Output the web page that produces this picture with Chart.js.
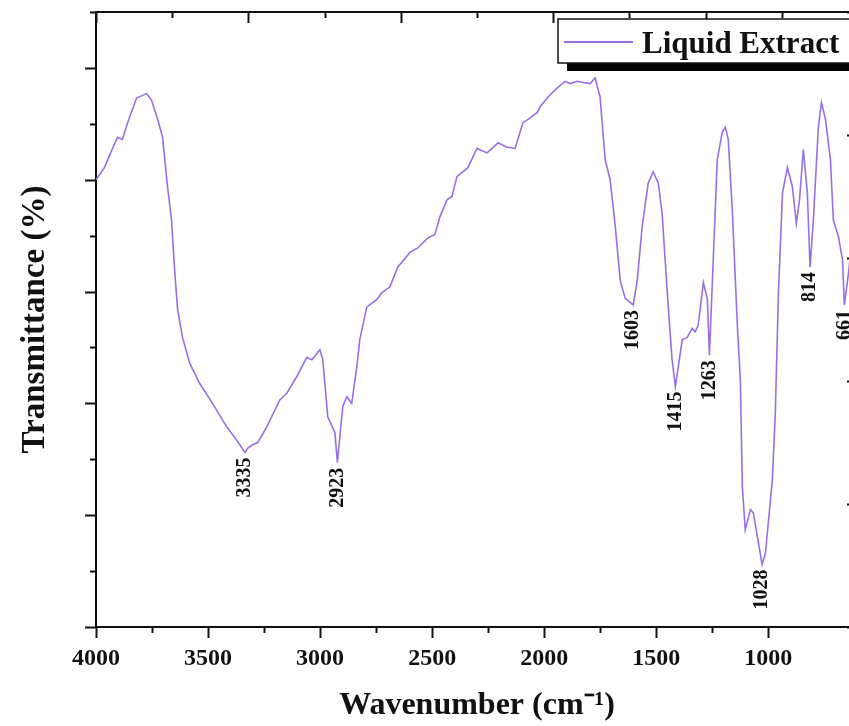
<!DOCTYPE html>
<html>
<head>
<meta charset="utf-8">
<script src="https://cdn.jsdelivr.net/npm/chart.js@4.4.1/dist/chart.umd.min.js"></script>
<style>
  html, body { margin: 0; padding: 0; background: #fff; overflow: hidden; }
  #ftir { display: block; }
</style>
</head>
<body>
<canvas id="ftir" width="880" height="726"></canvas>
<script>
// FTIR spectrum of the liquid extract (wavenumber in cm-1, transmittance in arbitrary %)
const wavenumbers = [
  4000, 3962, 3926, 3904, 3882, 3859, 3819, 3797, 3774, 3752, 3725, 3703, 3681, 3663, 3649, 3636,
  3614, 3582, 3538, 3480, 3417, 3372, 3335, 3323, 3301, 3278, 3238, 3180, 3149, 3104, 3060, 3037,
  3001, 2988, 2966, 2934, 2923, 2899, 2881, 2859, 2836, 2823, 2792, 2747, 2724, 2689, 2653, 2599,
  2564, 2519, 2488, 2465, 2434, 2412, 2389, 2363, 2340, 2300, 2255, 2206, 2166, 2130, 2095, 2072,
  2032, 2019, 1983, 1943, 1907, 1885, 1853, 1826, 1795, 1773, 1751, 1728, 1706, 1683, 1661, 1639,
  1603, 1585, 1563, 1536, 1514, 1491, 1474, 1451, 1430, 1415, 1384, 1362, 1340, 1326, 1313, 1290,
  1272, 1263, 1246, 1228, 1205, 1192, 1179, 1161, 1138, 1125, 1116, 1103, 1080, 1067, 1028, 1013,
  982, 969, 955, 937, 915, 893, 875, 861, 844, 826, 814, 799, 777, 763, 745, 723,
  710, 687, 669, 661, 642, 620, 600
];
const transmittance = [
  40.0, 41.1, 42.8, 43.8, 43.6, 45.1, 47.3, 47.5, 47.7, 47.1, 45.4, 43.8, 39.4, 36.4, 31.9, 28.4,
  25.9, 23.6, 21.8, 20.0, 17.9, 16.7, 15.6, 16.0, 16.3, 16.5, 17.9, 20.3, 20.9, 22.4, 24.1, 23.9,
  24.8, 23.9, 18.8, 17.4, 14.7, 19.7, 20.6, 20.0, 23.3, 25.7, 28.6, 29.3, 29.9, 30.4, 32.2, 33.5,
  33.9, 34.8, 35.1, 36.7, 38.2, 38.5, 40.3, 40.7, 41.1, 42.8, 42.4, 43.3, 42.9, 42.8, 45.1, 45.4,
  46.0, 46.5, 47.4, 48.2, 48.8, 48.6, 48.8, 48.7, 48.6, 49.1, 47.4, 41.8, 40.0, 35.8, 31.0, 29.4,
  28.8, 31.0, 35.8, 39.7, 40.7, 39.7, 37.0, 29.9, 24.0, 21.5, 25.7, 25.9, 26.7, 26.4, 27.0, 30.8,
  29.3, 24.3, 32.8, 41.8, 44.3, 44.7, 43.6, 37.3, 26.8, 22.1, 12.5, 8.7, 10.5, 10.2, 5.6, 6.6,
  13.2, 19.1, 29.9, 38.8, 41.1, 39.4, 36.1, 38.2, 42.7, 38.8, 32.2, 36.4, 44.7, 46.9, 45.4, 41.8,
  36.4, 34.9, 32.8, 28.8, 31.7, 36.0, 38.0
];
const peakPositions = [3335, 2923, 1603, 1415, 1263, 1028, 814, 661];
const peakLabels = ['3335', '2923', '1603', '1415', '1263', '1028', '814', '661'];
const seriesName = 'Liquid Extract';
const lineColor = '#9a6fe6';
const ink = '#111';
const serif = '"Liberation Serif", "Times New Roman", serif';

Chart.defaults.font.family = serif;
Chart.defaults.color = ink;

// tick marks: outward on bottom/left, inward on top/right, long on majors
const tickMarks = {
  id: 'tickMarks',
  afterDraw(chart) {
    const majors = {
      x: v => v % 500 === 0,
      x2: v => v % 2 === 0,
      y: v => v % 10 === 0,
      y2: () => true
    };
    const ctx = chart.ctx;
    ctx.save();
    ctx.strokeStyle = ink;
    ctx.lineWidth = 2;
    for (const id in majors) {
      const scale = chart.scales[id];
      const pos = scale.options.position;
      scale.ticks.forEach(t => {
        const len = majors[id](t.value) ? 11 : 6;
        const p = Math.round(scale.getPixelForValue(t.value)) + 0.5;
        ctx.beginPath();
        if (scale.isHorizontal()) {
          const y0 = pos === 'bottom' ? scale.top : scale.bottom;
          ctx.moveTo(p, y0);
          ctx.lineTo(p, y0 + len);
        } else {
          const x0 = pos === 'left' ? scale.right : scale.left;
          ctx.moveTo(x0, p);
          ctx.lineTo(x0 - len, p);
        }
        ctx.stroke();
      });
    }
    ctx.restore();
  }
};

// vertical wavenumber labels under each absorption band
const peakTags = {
  id: 'peakTags',
  afterDatasetsDraw(chart) {
    const ctx = chart.ctx;
    const xs = chart.scales.x, ys = chart.scales.y;
    ctx.save();
    ctx.fillStyle = ink;
    ctx.font = 'bold 20px ' + serif;
    ctx.textAlign = 'right';
    ctx.textBaseline = 'middle';
    peakPositions.forEach((w, i) => {
      const k = wavenumbers.indexOf(w);
      const px = xs.getPixelForValue(w);
      const py = ys.getPixelForValue(transmittance[k]);
      ctx.save();
      ctx.translate(px, py + 5);
      ctx.rotate(-Math.PI / 2);
      ctx.fillText(peakLabels[i], 0, 0);
      ctx.restore();
    });
    ctx.restore();
  }
};

// boxed legend with a solid drop shadow
const legendBox = {
  id: 'legendBox',
  afterDraw(chart) {
    const ds = chart.data.datasets[0];
    const ctx = chart.ctx;
    const left = 558, top = 19, w = 310, h = 44, sh = 8;
    ctx.save();
    ctx.fillStyle = '#000';
    ctx.fillRect(left + sh + 1, top + sh, w, h);
    ctx.fillStyle = '#fff';
    ctx.fillRect(left, top, w, h);
    ctx.strokeStyle = ink;
    ctx.lineWidth = 1.5;
    ctx.strokeRect(left, top, w, h);
    ctx.strokeStyle = ds.borderColor;
    ctx.lineWidth = 2;
    ctx.beginPath();
    ctx.moveTo(left + 6, top + 23);
    ctx.lineTo(left + 75, top + 23);
    ctx.stroke();
    ctx.fillStyle = ink;
    ctx.font = 'bold 31px ' + serif;
    ctx.textBaseline = 'alphabetic';
    ctx.fillText(ds.label, left + 84, top + 34);
    ctx.restore();
  }
};

const axisLine = { display: true, color: ink, width: 2 };
const noGrid = { display: false, drawTicks: false };

new Chart(document.getElementById('ftir'), {
  type: 'line',
  data: {
    datasets: [{
      label: seriesName,
      data: wavenumbers.map((w, i) => ({ x: w, y: transmittance[i] })),
      borderColor: lineColor,
      borderWidth: 1.6,
      pointRadius: 0,
      tension: 0,
      fill: false
    }]
  },
  options: {
    responsive: false,
    animation: false,
    devicePixelRatio: 1,
    layout: { padding: 0 },
    plugins: { legend: { display: false }, tooltip: { enabled: false } },
    scales: {
      x: {
        type: 'linear', position: 'bottom', reverse: true, min: 600, max: 4000,
        ticks: {
          stepSize: 250, autoSkip: false, maxRotation: 0, padding: 17,
          font: { size: 24, weight: 'bold' },
          callback: v => (v % 500 === 0 ? String(v) : '')
        },
        grid: noGrid, border: axisLine,
        title: {
          display: true, text: 'Wavenumber (cm\u207B\u00B9)',
          font: { size: 32, weight: 'bold' }, padding: { top: 0, bottom: 1 }
        },
        afterFit: s => { s.height = 99; }
      },
      x2: {
        type: 'linear', position: 'top', min: 0, max: 10,
        ticks: { stepSize: 1, display: false },
        grid: noGrid, border: axisLine,
        afterFit: s => { s.height = 12; }
      },
      y: {
        type: 'linear', position: 'left', min: 0, max: 55,
        ticks: { stepSize: 5, display: false },
        grid: noGrid, border: axisLine,
        title: {
          display: true, text: 'Transmittance (%)',
          font: { size: 33, weight: 'bold' }, padding: { top: 16, bottom: 0 }
        },
        afterFit: s => { s.width = 96; }
      },
      y2: {
        type: 'linear', position: 'right', min: 0, max: 5,
        ticks: { stepSize: 1, display: false },
        grid: noGrid, border: axisLine,
        afterFit: s => { s.width = 22; }
      }
    }
  },
  plugins: [tickMarks, peakTags, legendBox]
});
</script>
</body>
</html>
